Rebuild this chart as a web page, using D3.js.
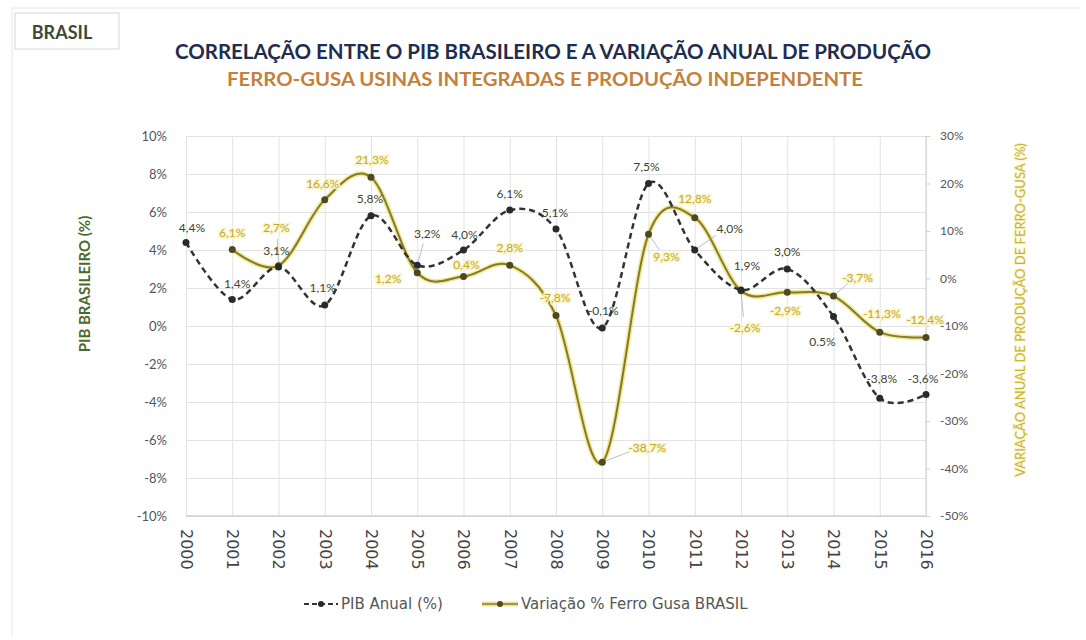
<!DOCTYPE html>
<html>
<head>
<meta charset="utf-8">
<script src="https://cdn.jsdelivr.net/npm/d3@7"></script>
<style>
  body { margin: 0; background: #fff; }
  text { font-family: Lato, "Open Sans", sans-serif; }
</style>
</head>
<body>
<svg></svg>
<script>
let years = [2000, 2001, 2002, 2003, 2004, 2005, 2006, 2007, 2008, 2009, 2010, 2011, 2012, 2013, 2014, 2015, 2016];
let pib = [4.4, 1.4, 3.1, 1.1, 5.8, 3.2, 4.0, 6.1, 5.1, -0.1, 7.5, 4.0, 1.9, 3.0, 0.5, -3.8, -3.6];
let gusaYears = [2001, 2002, 2003, 2004, 2005, 2006, 2007, 2008, 2009, 2010, 2011, 2012, 2013, 2014, 2015, 2016];
let gusa = [6.1, 2.7, 16.6, 21.3, 1.2, 0.4, 2.8, -7.8, -38.7, 9.3, 12.8, -2.6, -2.9, -3.7, -11.3, -12.4];
let leftTicks = [10, 8, 6, 4, 2, 0, -2, -4, -6, -8, -10];
let rightTicks = [30, 20, 10, 0, -10, -20, -30, -40, -50];

// label offsets (dx, dy) from each point, and which ones get a leader line
let pibOff = [[6,-15],[5,-16],[-2,-16],[-2,-17],[-1,-17],[10,-31],[1,-15],[0,-16],[-1,-16],[1,-17],[-2,-17],[35,-21],[6,-24],[0,-17],[-11,25],[2,-19],[-3,-16]];
let gusaOff = [[0,-17],[-2,-38],[-2,-16],[1,-18],[-29,6],[3,-12],[0,-17],[-1,-18],[45,-15],[18,22],[0,-19],[4,37],[-2,19],[24,-18],[2,-18],[-1,-18]];
let pibLeaders = [5, 11];
let gusaLeaders = [1, 8, 9, 11, 13];

let width = 1086;
let height = 640;
let mLeft = 186, mRight = 926, mTop = 136, mBottom = 516;

let svg = d3.select('svg')
        .attr('width', width)
        .attr('height', height);

let fmt1 = v => v.toFixed(1).replace('.', ',') + '%';

let xScale = d3.scaleLinear()
        .domain([2000, 2016])
        .range([mLeft, mRight]);

let yLeft = d3.scaleLinear()
        .domain([-10, 10])
        .range([mBottom, mTop]);

let yRight = d3.scaleLinear()
        .domain([-50, 30])
        .range([mBottom, mTop]);

// frame
svg.append('path')
        .attr('d', 'M12,8 H1080 M12,8 V636')
        .attr('stroke', '#e6e6e6')
        .attr('fill', 'none');

svg.append('rect')
        .attr('x', 15).attr('y', 13)
        .attr('width', 104).attr('height', 36)
        .attr('fill', '#fff')
        .attr('stroke', '#d6d6d6');

svg.append('text')
        .attr('x', 62).attr('y', 39)
        .style('text-anchor', 'middle')
        .style('font-size', '18px')
        .style('font-weight', 'bold')
        .style('fill', '#3e4a33')
        .text('BRASIL');

svg.append('text')
        .attr('x', 553).attr('y', 59)
        .attr('textLength', 756)
        .attr('lengthAdjust', 'spacingAndGlyphs')
        .style('text-anchor', 'middle')
        .style('font-size', '20px')
        .style('font-weight', 'bold')
        .style('fill', '#1f2d4e')
        .text('CORRELAÇÃO ENTRE O PIB BRASILEIRO E A VARIAÇÃO ANUAL DE PRODUÇÃO');

svg.append('text')
        .attr('x', 545).attr('y', 86)
        .attr('textLength', 636)
        .attr('lengthAdjust', 'spacingAndGlyphs')
        .style('text-anchor', 'middle')
        .style('font-size', '19px')
        .style('font-weight', 'bold')
        .style('fill', '#c4813b')
        .text('FERRO-GUSA USINAS INTEGRADAS E PRODUÇÃO INDEPENDENTE');

// grid
svg.append('g')
        .attr('transform', 'translate(' + mLeft + ',0)')
        .call(d3.axisLeft(yLeft).tickValues(leftTicks).tickSize(-(mRight - mLeft)).tickFormat(''))
        .call(g => g.select('.domain').remove())
        .selectAll('line')
        .attr('stroke', '#e2e2e2');

svg.append('g')
        .attr('transform', 'translate(0,' + mBottom + ')')
        .call(d3.axisBottom(xScale).tickValues(years).tickSize(-(mBottom - mTop)).tickFormat(''))
        .call(g => g.select('.domain').remove())
        .selectAll('line')
        .attr('stroke', '#e2e2e2');

svg.append('line')
        .attr('x1', mLeft).attr('x2', mRight)
        .attr('y1', mBottom).attr('y2', mBottom)
        .attr('stroke', '#d0d0d0').attr('stroke-width', 1.5);

svg.append('line')
        .attr('x1', mRight).attr('x2', mRight)
        .attr('y1', mTop).attr('y2', mBottom)
        .attr('stroke', '#d0d0d0');

// axes labels
let leftAxis = svg.append('g')
        .attr('transform', 'translate(' + mLeft + ',0)')
        .call(d3.axisLeft(yLeft).tickValues(leftTicks).tickSize(0).tickPadding(19).tickFormat(d => d + '%'));
leftAxis.select('.domain').remove();
leftAxis.selectAll('text').style('font-size', '13px').style('fill', '#555').style('font-family', 'Lato, sans-serif');

let rightAxis = svg.append('g')
        .attr('transform', 'translate(' + mRight + ',0)')
        .call(d3.axisRight(yRight).tickValues(rightTicks).tickSize(4).tickPadding(10).tickFormat(d => d + '%'));
rightAxis.select('.domain').remove();
rightAxis.selectAll('line').attr('stroke', '#d0d0d0');
rightAxis.selectAll('text').style('font-size', '12px').style('fill', '#555').style('font-family', 'Lato, sans-serif');

let xAxis = svg.append('g')
        .attr('transform', 'translate(0,' + mBottom + ')')
        .call(d3.axisBottom(xScale).tickValues(years).tickSize(0).tickFormat(d => d));
xAxis.select('.domain').remove();
xAxis.selectAll('text')
        .attr('transform', 'rotate(90)')
        .attr('x', 13)
        .attr('y', 0)
        .attr('dy', '0.35em')
        .style('text-anchor', 'start')
        .style('font-size', '16px')
        .style('fill', '#444')
        .style('font-family', '"DejaVu Sans", sans-serif');

svg.append('text')
        .attr('transform', 'rotate(-90)')
        .attr('x', -284).attr('y', 90)
        .style('text-anchor', 'middle')
        .style('font-size', '15px')
        .style('font-weight', 'bold')
        .style('fill', '#4b6a2a')
        .text('PIB BRASILEIRO (%)');

svg.append('text')
        .attr('transform', 'rotate(-90)')
        .attr('x', -310).attr('y', 1025)
        .style('text-anchor', 'middle')
        .style('font-size', '13px')
        .style('fill', '#c9b52a')
        .style('paint-order', 'stroke')
        .style('stroke', '#fbf6d6')
        .style('stroke-width', 2)
        .text('VARIAÇÃO ANUAL DE PRODUÇÃO DE FERRO-GUSA (%)');

// lines
let pibLine = d3.line()
        .x((d, i) => xScale(years[i]))
        .y(d => yLeft(d))
        .curve(d3.curveCatmullRom.alpha(0));

let gusaLine = d3.line()
        .x((d, i) => xScale(gusaYears[i]))
        .y(d => yRight(d))
        .curve(d3.curveCatmullRom.alpha(0));

svg.append('path')
        .datum(gusa)
        .attr('d', gusaLine)
        .attr('fill', 'none')
        .attr('stroke', '#f0e27a')
        .attr('stroke-opacity', 0.8)
        .attr('stroke-width', 5);

svg.append('path')
        .datum(gusa)
        .attr('d', gusaLine)
        .attr('fill', 'none')
        .attr('stroke', '#837b2c')
        .attr('stroke-width', 2);

svg.append('path')
        .datum(pib)
        .attr('d', pibLine)
        .attr('fill', 'none')
        .attr('stroke', '#333')
        .attr('stroke-width', 2.5)
        .attr('stroke-dasharray', '6,4');

// leader lines
svg.selectAll('line.pll')
        .data(pibLeaders)
        .enter()
        .append('line')
        .attr('x1', i => xScale(years[i]))
        .attr('y1', i => yLeft(pib[i]))
        .attr('x2', i => xScale(years[i]) + pibOff[i][0] * 0.6)
        .attr('y2', i => yLeft(pib[i]) + pibOff[i][1] * 0.7)
        .attr('stroke', '#9fb0bf')
        .attr('stroke-width', 0.8);

svg.selectAll('line.gll')
        .data(gusaLeaders)
        .enter()
        .append('line')
        .attr('x1', i => xScale(gusaYears[i]))
        .attr('y1', i => yRight(gusa[i]))
        .attr('x2', i => xScale(gusaYears[i]) + gusaOff[i][0] * 0.6)
        .attr('y2', i => yRight(gusa[i]) + gusaOff[i][1] * 0.7)
        .attr('stroke', '#9fb0bf')
        .attr('stroke-width', 0.8);

svg.selectAll('circle.g')
        .data(gusa)
        .enter()
        .append('circle')
        .attr('class', 'g')
        .attr('cx', (d, i) => xScale(gusaYears[i]))
        .attr('cy', d => yRight(d))
        .attr('r', 3.5)
        .attr('fill', '#4b4a22');

svg.selectAll('circle.p')
        .data(pib)
        .enter()
        .append('circle')
        .attr('class', 'p')
        .attr('cx', (d, i) => xScale(years[i]))
        .attr('cy', d => yLeft(d))
        .attr('r', 3.5)
        .attr('fill', '#2a2a2a');

// data labels
svg.selectAll('text.gl')
        .data(gusa)
        .enter()
        .append('text')
        .attr('class', 'gl')
        .attr('x', (d, i) => xScale(gusaYears[i]) + gusaOff[i][0])
        .attr('y', (d, i) => yRight(d) + gusaOff[i][1])
        .attr('dy', '0.35em')
        .style('text-anchor', 'middle')
        .style('font-size', '12px')
        .style('fill', '#c4a91e')
        .style('paint-order', 'stroke')
        .style('stroke', '#fbf6cf')
        .style('stroke-width', 3)
        .text(d => fmt1(d));

svg.selectAll('text.pl')
        .data(pib)
        .enter()
        .append('text')
        .attr('class', 'pl')
        .attr('x', (d, i) => xScale(years[i]) + pibOff[i][0])
        .attr('y', (d, i) => yLeft(d) + pibOff[i][1])
        .attr('dy', '0.35em')
        .style('text-anchor', 'middle')
        .style('font-size', '12px')
        .style('fill', '#3b4433')
        .text((d, i) => i == 14 ? '0.5%' : fmt1(d));

// legend
let legend = svg.append('g').attr('transform', 'translate(0,604)');

legend.append('line')
        .attr('x1', 304).attr('x2', 338)
        .attr('stroke', '#333').attr('stroke-width', 2).attr('stroke-dasharray', '5,3');
legend.append('circle').attr('cx', 321).attr('r', 3).attr('fill', '#2a2a2a');
legend.append('text')
        .attr('x', 341).attr('dy', '0.35em')
        .style('font-size', '15px').style('fill', '#555')
        .style('font-family', '"DejaVu Sans", sans-serif')
        .text('PIB Anual (%)');

legend.append('line')
        .attr('x1', 482).attr('x2', 518)
        .attr('stroke', '#eee39a').attr('stroke-width', 5);
legend.append('line')
        .attr('x1', 482).attr('x2', 518)
        .attr('stroke', '#837b2c').attr('stroke-width', 1.5);
legend.append('circle').attr('cx', 500).attr('r', 3).attr('fill', '#4b4a22');
legend.append('text')
        .attr('x', 521).attr('dy', '0.35em')
        .style('font-size', '15px').style('fill', '#555')
        .style('font-family', '"DejaVu Sans", sans-serif')
        .text('Variação % Ferro Gusa BRASIL');
</script>
</body>
</html>
